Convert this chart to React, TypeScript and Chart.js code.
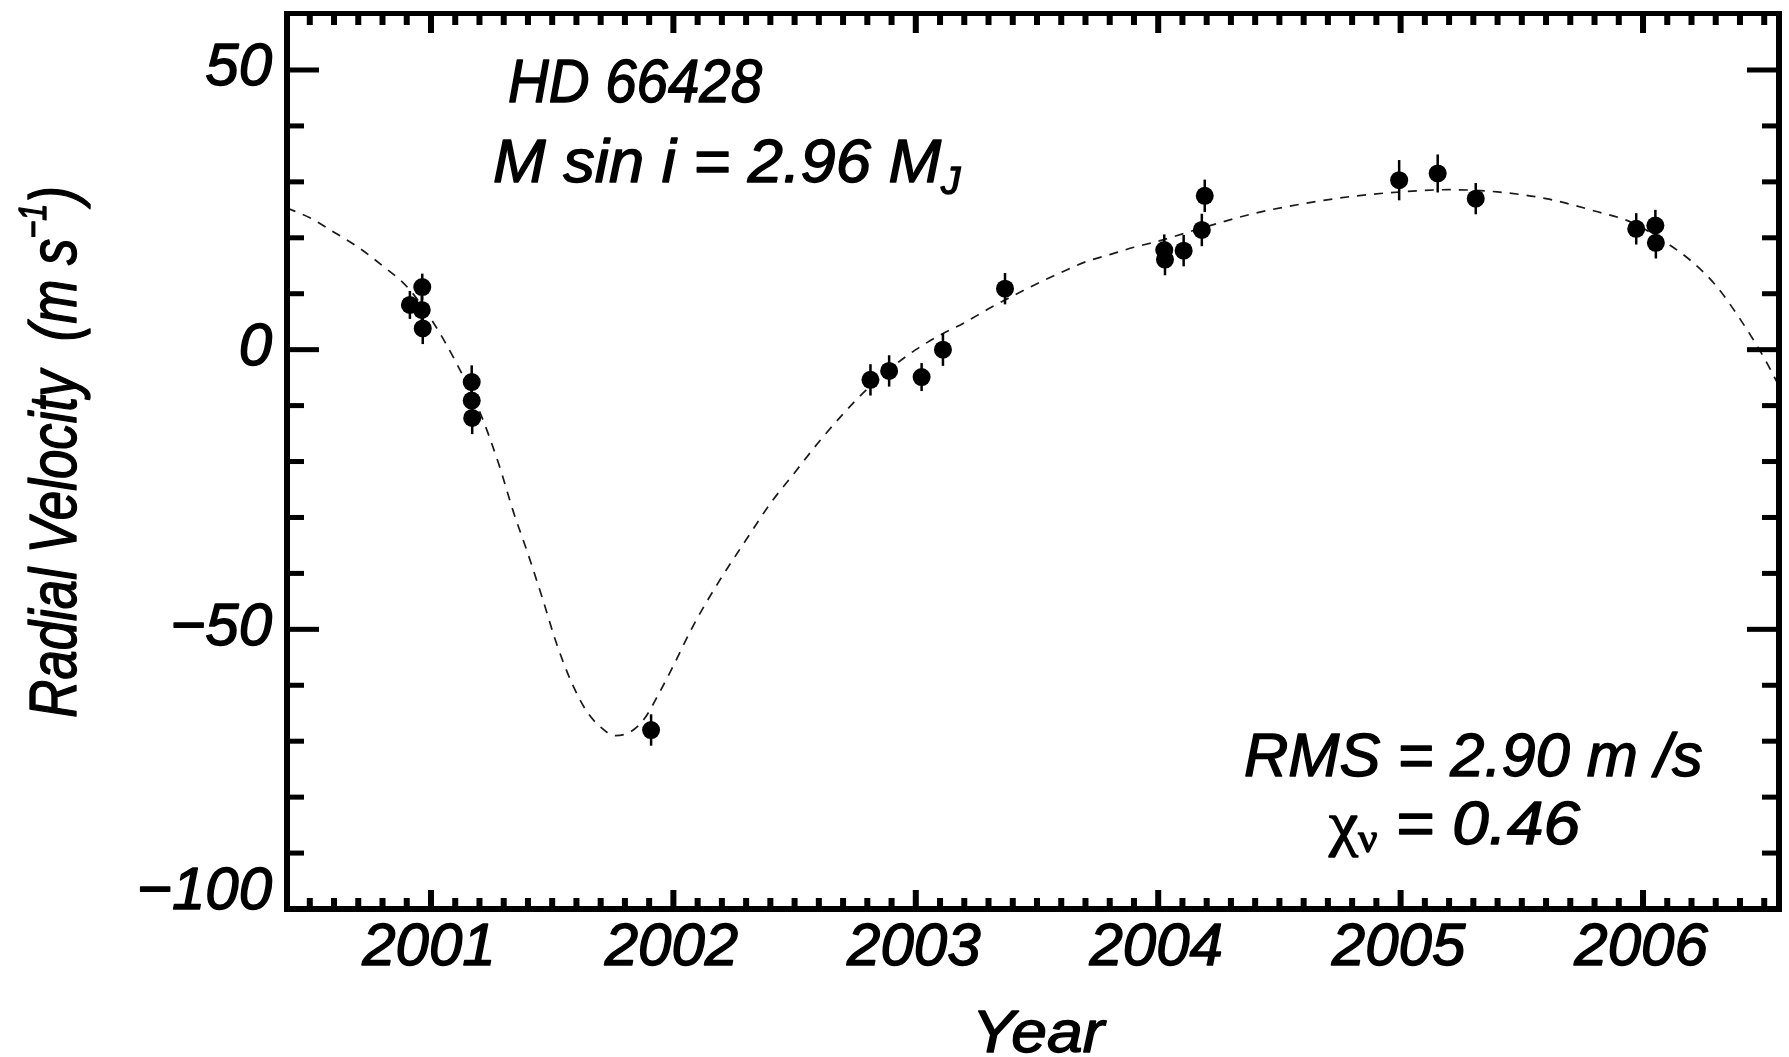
import React, { useEffect, useRef } from "react";
import { Chart, registerables } from "chart.js";

Chart.register(...registerables);

const obsYear = [
  2000.913, 2000.962, 2000.964, 2000.966, 2001.168, 2001.168, 2001.17,
  2001.908, 2002.813, 2002.89, 2003.024, 2003.112, 2003.368, 2004.025,
  2004.028, 2004.105, 2004.18, 2004.192, 2004.994, 2005.153, 2005.31,
  2005.972, 2006.051, 2006.053,
];
const obsVelocity = [
  8.0, 7.1, 11.2, 3.8, -5.8, -9.1, -12.2,
  -68.0, -5.4, -3.8, -4.9, 0.0, 10.9, 17.8,
  16.1, 17.7, 21.4, 27.5, 30.3, 31.5, 27.0,
  21.6, 22.2, 19.1,
];
const obsError = [
  2.5, 2.5, 2.4, 2.8, 3.0, 3.0, 2.9,
  2.8, 2.8, 2.8, 2.5, 2.9, 2.8, 2.8,
  2.8, 2.8, 2.9, 2.9, 3.6, 3.4, 2.8,
  2.8, 2.8, 2.8,
];

// ---- Keplerian fit curve (dashed) ----
const fitYear = [
  2000.406, 2000.5, 2000.6, 2000.7, 2000.8, 2000.9, 2001.0, 2001.1, 2001.2,
  2001.28, 2001.34, 2001.4, 2001.46, 2001.52, 2001.58, 2001.64, 2001.7,
  2001.76, 2001.82, 2001.88, 2001.94, 2002.0, 2002.08, 2002.18, 2002.3,
  2002.4, 2002.5, 2002.6, 2002.7, 2002.8, 2002.9, 2003.0, 2003.1, 2003.2,
  2003.3, 2003.4, 2003.5, 2003.6, 2003.7, 2003.8, 2003.9, 2004.0, 2004.2,
  2004.4, 2004.6, 2004.8, 2005.0, 2005.2, 2005.4, 2005.6, 2005.8, 2005.95,
  2006.1, 2006.2, 2006.3, 2006.4, 2006.5, 2006.561,
];
const fitVelocity = [
  25.3, 23.6, 21.0, 18.3, 15.0, 11.3, 5.5, -2.0, -11.0,
  -20.5, -29.0, -36.5, -44.5, -52.8, -59.5, -64.5, -67.5,
  -69.0, -68.4, -66.0, -61.5, -56.5, -49.5, -42.0, -34.0,
  -27.5, -22.0, -16.5, -11.5, -7.0, -3.2, 0.0, 2.6, 4.8,
  7.3, 9.6, 11.8, 13.8, 15.7, 17.0, 18.3, 19.4, 22.0,
  24.4, 26.1, 27.4, 28.2, 28.6, 28.2, 27.0, 24.8, 22.8,
  19.0, 15.8, 11.5, 5.5, -1.5, -6.5,
];

// ---- Axes ----
const xMajorTicks = [2001, 2002, 2003, 2004, 2005, 2006];
const xTickLabels = ["2001", "2002", "2003", "2004", "2005", "2006"];
const yMajorTicks = [50, 0, -50, -100];
const yTickLabels = ["50", "0", "\u221250", "\u2212100"];
const X_MIN = 2000.406;
const X_MAX = 2006.561;
const Y_MIN = -100;
const Y_MAX = 60.1;
const X_MINOR_STEP = 0.1;
const Y_MINOR_STEP = 10;

const SANS = "'Liberation Sans', Arimo, Arial, Helvetica, sans-serif";
const SERIF = "'Liberation Serif', 'DejaVu Serif', 'Times New Roman', serif";
const BOLDEN = 1.4;

type Seg = { t: string; size: number; dy?: number; family?: string; style?: string };

function drawSegs(
  ctx: CanvasRenderingContext2D,
  segs: Seg[],
  x: number,
  y: number,
  align: "left" | "center" | "right",
  sx: number
) {
  ctx.save();
  ctx.textBaseline = "alphabetic";
  ctx.textAlign = "left";
  ctx.fillStyle = "#000";
  ctx.strokeStyle = "#000";
  ctx.lineJoin = "round";
  ctx.lineWidth = BOLDEN;
  const fontOf = (s: Seg) => `${s.style ?? "italic"} 400 ${s.size}px ${s.family ?? SANS}`;
  let total = 0;
  const widths = segs.map((s) => {
    ctx.font = fontOf(s);
    const w = ctx.measureText(s.t).width;
    total += w;
    return w;
  });
  let start = 0;
  if (align === "center") start = -total / 2;
  else if (align === "right") start = -total;
  ctx.translate(x, y);
  ctx.scale(sx, 1);
  let cx = start;
  segs.forEach((s, i) => {
    ctx.font = fontOf(s);
    ctx.fillText(s.t, cx, s.dy ?? 0);
    ctx.strokeText(s.t, cx, s.dy ?? 0);
    cx += widths[i];
  });
  ctx.restore();
}

const errorBarPlugin = {
  id: "errorBars",
  afterDatasetsDraw(chart: any) {
    const ctx: CanvasRenderingContext2D = chart.ctx;
    const xs = chart.scales.x;
    const ys = chart.scales.y;
    ctx.save();
    ctx.strokeStyle = "#000";
    ctx.lineWidth = 2.5;
    obsYear.forEach((t, i) => {
      const px = xs.getPixelForValue(t);
      const y1 = ys.getPixelForValue(obsVelocity[i] - obsError[i]);
      const y2 = ys.getPixelForValue(obsVelocity[i] + obsError[i]);
      ctx.beginPath();
      ctx.moveTo(px, y1);
      ctx.lineTo(px, y2);
      ctx.stroke();
    });
    ctx.restore();
  },
};

const framePlugin = {
  id: "idlFrame",
  afterDraw(chart: any) {
    const ctx: CanvasRenderingContext2D = chart.ctx;
    const xs = chart.scales.x;
    const ys = chart.scales.y;
    const { left, right, top, bottom } = chart.chartArea;
    ctx.save();
    ctx.fillStyle = "#000";
    // frame
    ctx.fillRect(left - 3, top - 2.5, right - left + 6, 5);
    ctx.fillRect(left - 3, bottom - 3, right - left + 6, 6);
    ctx.fillRect(left - 3, top - 2.5, 6, bottom - top + 5.5);
    ctx.fillRect(right - 3, top - 2.5, 6, bottom - top + 5.5);

    // x ticks (bottom and top)
    const nx0 = Math.ceil(X_MIN / X_MINOR_STEP - 1e-6);
    const nx1 = Math.floor(X_MAX / X_MINOR_STEP + 1e-6);
    for (let n = nx0; n <= nx1; n++) {
      const v = n * X_MINOR_STEP;
      const major = Math.abs(v - Math.round(v)) < 1e-6;
      const px = xs.getPixelForValue(v);
      if (px < left + 4 || px > right - 4) continue;
      const lb = major ? 16 : 8;
      const lt = major ? 17 : 9;
      ctx.fillRect(px - 3, bottom - 3 - lb, 6, lb);
      ctx.fillRect(px - 3, top + 2.5, 6, lt);
    }
    // y ticks (left and right)
    const ny0 = Math.ceil(Y_MIN / Y_MINOR_STEP - 1e-6);
    const ny1 = Math.floor(Y_MAX / Y_MINOR_STEP + 1e-6);
    for (let n = ny0; n <= ny1; n++) {
      const v = n * Y_MINOR_STEP;
      const major = Math.abs(v % 50) < 1e-6;
      const py = ys.getPixelForValue(v);
      if (py < top + 4 || py > bottom - 4) continue;
      const len = major ? 29 : 14;
      ctx.fillRect(left + 3, py - 2.5, len, 5);
      ctx.fillRect(right - 3 - len, py - 2.5, len, 5);
    }

    // tick labels
    const TS = 60;
    xMajorTicks.forEach((v, i) => {
      const px = xs.getPixelForValue(v);
      drawSegs(ctx, [{ t: xTickLabels[i], size: TS }], px - 2, 965, "center", 1.0);
    });
    yMajorTicks.forEach((v, i) => {
      let py = ys.getPixelForValue(v) - 6 + TS * 0.358;
      if (v === Y_MIN) py = 909;
      drawSegs(ctx, [{ t: yTickLabels[i], size: TS }], 272, py, "right", 1.0);
    });

    // axis titles
    drawSegs(ctx, [{ t: "Year", size: TS }], 1038, 1052, "center", 1.07);

    ctx.save();
    ctx.translate(76, 452);
    ctx.rotate(-Math.PI / 2);
    drawSegs(
      ctx,
      [
        { t: "Radial Velocity  (m s", size: 66 },
        { t: "\u22121", size: 38, dy: -30 },
        { t: ")", size: 66 },
      ],
      0,
      0,
      "center",
      0.8
    );
    ctx.restore();

    // annotations
    const AS = 62;
    drawSegs(ctx, [{ t: "HD 66428", size: AS }], 508, 102, "left", 0.91);
    drawSegs(
      ctx,
      [
        { t: "M sin i = 2.96 M", size: AS },
        { t: "J", size: 38, dy: 12 },
      ],
      493,
      182,
      "left",
      1.02
    );
    drawSegs(ctx, [{ t: "RMS = 2.90 m /s", size: AS }], 1244, 776, "left", 0.99);
    drawSegs(
      ctx,
      [
        { t: "\u03c7", size: 62, family: SERIF, style: "normal" },
        { t: "\u03bd", size: 40, family: SERIF, style: "normal", dy: 8 },
        { t: " = 0.46", size: AS },
      ],
      1329,
      844,
      "left",
      1.06
    );
    ctx.restore();
  },
};

export default function App() {
  const canvasRef = useRef<HTMLCanvasElement | null>(null);

  useEffect(() => {
    const canvas = canvasRef.current;
    if (!canvas) return;
    const chart = new Chart(canvas, {
      type: "scatter",
      data: {
        datasets: [
          {
            type: "line",
            label: "Keplerian fit",
            data: fitYear.map((x, i) => ({ x, y: fitVelocity[i] })),
            borderColor: "#1a1a1a",
            borderWidth: 1.7,
            borderDash: [9, 8],
            pointRadius: 0,
            fill: false,
            cubicInterpolationMode: "monotone",
            order: 2,
          } as any,
          {
            type: "scatter",
            label: "Radial velocity",
            data: obsYear.map((x, i) => ({ x, y: obsVelocity[i] })),
            pointRadius: 9,
            pointHoverRadius: 9,
            backgroundColor: "#000",
            borderColor: "#000",
            borderWidth: 0,
            order: 1,
          } as any,
        ],
      },
      options: {
        responsive: false,
        animation: false,
        devicePixelRatio: 1,
        events: [],
        layout: { padding: { left: 287, right: 10, top: 13.5, bottom: 148 } },
        plugins: {
          legend: { display: false },
          tooltip: { enabled: false },
          title: { display: false },
        },
        scales: {
          x: { type: "linear", min: X_MIN, max: X_MAX, display: false },
          y: { type: "linear", min: Y_MIN, max: Y_MAX, display: false },
        },
      },
      plugins: [errorBarPlugin, framePlugin],
    });
    return () => chart.destroy();
  }, []);

  return (
    <div
      style={{
        position: "fixed",
        left: 0,
        top: 0,
        width: 1789,
        height: 1057,
        background: "#fff",
      }}
    >
      <canvas ref={canvasRef} width={1789} height={1057} style={{ display: "block" }} />
    </div>
  );
}
